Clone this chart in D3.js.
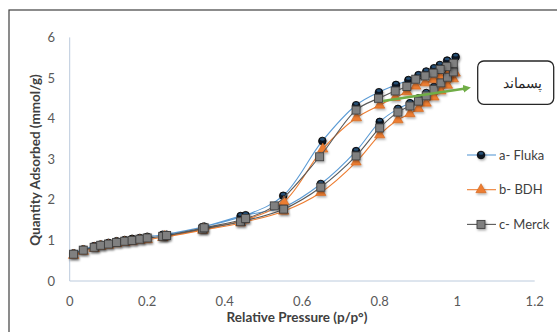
<!DOCTYPE html>
<html>
<head>
<meta charset="utf-8">
<script src="https://cdn.jsdelivr.net/npm/d3@7"></script>
<style>
  body { margin: 0; background: #fff; }
  svg { display: block; }
  text { font-family: Lato, "Liberation Sans", sans-serif; }
</style>
</head>
<body>
<div id="chart"></div>
<script>
// Series labels (legend order)
const seriesNames = ['a- Fluka', 'b- BDH', 'c- Merck'];

// Adsorption branch: relative pressure shared by all samples
const adsP = [0.01, 0.035, 0.063, 0.08, 0.10, 0.121, 0.142, 0.161, 0.181, 0.20, 0.24, 0.343, 0.441, 0.552,
              0.648, 0.739, 0.80, 0.847, 0.878, 0.90, 0.92, 0.94, 0.958, 0.975, 0.99];
const flukaAds = [0.68, 0.78, 0.86, 0.90, 0.94, 0.98, 1.01, 1.04, 1.06, 1.09, 1.14, 1.33, 1.60, 1.82,
                  2.39, 3.20, 3.92, 4.24, 4.38, 4.50, 4.63, 4.78, 4.93, 5.08, 5.25];
const bdhAds = [0.63, 0.73, 0.80, 0.85, 0.88, 0.92, 0.95, 0.97, 1.00, 1.02, 1.07, 1.25, 1.43, 1.72,
                2.18, 2.93, 3.60, 3.97, 4.12, 4.25, 4.38, 4.53, 4.68, 4.82, 4.98];
const merckAds = [0.66, 0.76, 0.83, 0.88, 0.91, 0.95, 0.98, 1.00, 1.03, 1.06, 1.10, 1.28, 1.46, 1.77,
                  2.31, 3.08, 3.77, 4.16, 4.31, 4.43, 4.56, 4.72, 4.88, 5.02, 5.15];

// Desorption branch
const flukaDesP = [0.996, 0.974, 0.955, 0.94, 0.92, 0.90, 0.874, 0.842, 0.798, 0.739, 0.652, 0.551, 0.454, 0.347, 0.25];
const flukaDes = [5.52, 5.43, 5.32, 5.24, 5.16, 5.07, 4.95, 4.83, 4.65, 4.33, 3.45, 2.10, 1.62, 1.34, 1.14];
const bdhDesP = [0.995, 0.975, 0.956, 0.938, 0.917, 0.893, 0.87, 0.84, 0.80, 0.74, 0.653, 0.553, 0.45, 0.345, 0.245];
const bdhDes = [5.12, 5.08, 5.03, 4.96, 4.88, 4.80, 4.66, 4.52, 4.33, 4.02, 3.25, 1.95, 1.50, 1.28, 1.10];
const merckDesP = [0.99, 0.973, 0.956, 0.938, 0.917, 0.893, 0.87, 0.84, 0.797, 0.739, 0.645, 0.528, 0.454, 0.347, 0.25];
const merckDes = [5.36, 5.28, 5.21, 5.12, 5.05, 4.97, 4.79, 4.68, 4.50, 4.21, 3.06, 1.85, 1.54, 1.31, 1.12];

// Axis ticks
const xTicks = [0, 0.2, 0.4, 0.6, 0.8, 1, 1.2];
const yTicks = [0, 1, 2, 3, 4, 5, 6];

const width = 557, height = 332;
const margin = { top: 37.4, right: 22.3, bottom: 51, left: 69.7 };

const svg = d3.select('#chart').append('svg')
    .attr('width', width)
    .attr('height', height);

const defs = svg.append('defs');
defs.append('filter').attr('id', 'shadow')
    .attr('x', '-50%').attr('y', '-50%').attr('width', '200%').attr('height', '200%')
  .append('feDropShadow')
    .attr('dx', 1).attr('dy', 1.5).attr('stdDeviation', 0.8)
    .attr('flood-color', '#000').attr('flood-opacity', 0.35);
defs.append('marker').attr('id', 'arrowhead')
    .attr('viewBox', '0 0 10 10').attr('refX', 5).attr('refY', 5)
    .attr('markerWidth', 3).attr('markerHeight', 3).attr('orient', 'auto')
  .append('path').attr('d', 'M0,0 L10,5 L0,10 z').attr('fill', '#70ad47');

// Outer chart frame
svg.append('rect')
    .attr('x', 9).attr('y', 10)
    .attr('width', 560).attr('height', 340)
    .attr('fill', 'none').attr('stroke', '#404040').attr('stroke-width', 1.2);

const x = d3.scaleLinear().domain([0, 1.2]).range([margin.left, width - margin.right]);
const y = d3.scaleLinear().domain([0, 6]).range([height - margin.bottom, margin.top]);

// Axis lines
svg.append('line')
    .attr('x1', x(0)).attr('x2', x(0)).attr('y1', y(0)).attr('y2', y(6))
    .attr('stroke', '#bccbdd').attr('stroke-width', 1);
svg.append('line')
    .attr('x1', x(0)).attr('x2', x(1.2)).attr('y1', y(0)).attr('y2', y(0))
    .attr('stroke', '#bccbdd').attr('stroke-width', 1);

// Tick labels
svg.selectAll('.ytick').data(yTicks).enter().append('text')
    .attr('class', 'ytick')
    .attr('x', 55).attr('y', d => y(d) + 4.5)
    .attr('text-anchor', 'end')
    .attr('font-size', 13).attr('fill', '#595959')
    .text(d => d);
svg.selectAll('.xtick').data(xTicks).enter().append('text')
    .attr('class', 'xtick')
    .attr('x', d => x(d)).attr('y', 306)
    .attr('text-anchor', 'middle')
    .attr('font-size', 13).attr('fill', '#595959')
    .text(d => d);

// Axis titles
svg.append('text')
    .attr('transform', `translate(40,160) rotate(-90)`)
    .attr('text-anchor', 'middle')
    .attr('font-size', 13.5).attr('font-weight', 'bold').attr('fill', '#404040')
    .text('Quantity Adsorbed (mmol/g)');
svg.append('text')
    .attr('x', 297).attr('y', 322)
    .attr('text-anchor', 'middle')
    .attr('font-size', 13.5).attr('font-weight', 'bold').attr('fill', '#404040')
    .text('Relative Pressure (p/p°)');

// Build series (adsorption then desorption in one loop)
const zipPts = (ps, qs) => ps.map((p, i) => ({ p, q: qs[i] }));
const series = [
    { name: seriesNames[0], color: '#5b9bd5', shape: 'circle',
      pts: zipPts(adsP, flukaAds).concat(zipPts(flukaDesP, flukaDes)) },
    { name: seriesNames[1], color: '#ed7d31', shape: 'triangle',
      pts: zipPts(adsP, bdhAds).concat(zipPts(bdhDesP, bdhDes)) },
    { name: seriesNames[2], color: '#595959', shape: 'square',
      pts: zipPts(adsP, merckAds).concat(zipPts(merckDesP, merckDes)) }
];

const line = d3.line()
    .x(d => x(d.p))
    .y(d => y(d.q))
    .curve(d3.curveCatmullRom.alpha(0.5));

function drawMarker(g, shape, color) {
    if (shape === 'circle') {
        g.append('circle').attr('r', 3.8)
            .attr('fill', '#0b1624').attr('stroke', '#000').attr('stroke-width', 0.8);
        g.append('ellipse').attr('cx', 0).attr('cy', -1.6).attr('rx', 2.4).attr('ry', 1.3)
            .attr('fill', '#2f5f8a').attr('opacity', 0.8);
    } else if (shape === 'triangle') {
        g.append('path').attr('d', d3.symbol(d3.symbolTriangle, 46)())
            .attr('fill', color).attr('stroke', '#d0641c').attr('stroke-width', 0.6);
    } else {
        g.append('rect').attr('x', -4).attr('y', -4).attr('width', 8).attr('height', 8)
            .attr('fill', '#808080').attr('stroke', '#404040').attr('stroke-width', 0.9);
    }
}

series.forEach(s => {
    svg.append('path')
        .datum(s.pts)
        .attr('d', line)
        .attr('fill', 'none')
        .attr('stroke', s.color)
        .attr('stroke-width', 1.1);
    svg.append('g').selectAll('g').data(s.pts).enter().append('g')
        .attr('transform', d => `translate(${x(d.p)},${y(d.q)})`)
        .attr('filter', 'url(#shadow)')
        .each(function () { drawMarker(d3.select(this), s.shape, s.color); });
});

// Legend
const legend = svg.append('g');
series.forEach((s, i) => {
    const ly = 155 + i * 34.7;
    legend.append('line')
        .attr('x1', 467).attr('x2', 496).attr('y1', ly).attr('y2', ly)
        .attr('stroke', s.color).attr('stroke-width', 1.1);
    const m = legend.append('g').attr('transform', `translate(481,${ly})`).attr('filter', 'url(#shadow)');
    drawMarker(m, s.shape, s.color);
    legend.append('text')
        .attr('x', 499).attr('y', ly + 4.5)
        .attr('font-size', 13).attr('fill', '#404040')
        .text(s.name);
});

// Callout with arrow
svg.append('line')
    .attr('x1', 383).attr('y1', 101).attr('x2', 467).attr('y2', 88.2)
    .attr('stroke', '#70ad47').attr('stroke-width', 2.6)
    .attr('marker-end', 'url(#arrowhead)');
svg.append('rect')
    .attr('x', 477.7).attr('y', 61).attr('width', 76).attr('height', 43.3)
    .attr('rx', 6).attr('ry', 6)
    .attr('fill', '#fff').attr('stroke', '#262626').attr('stroke-width', 1.3);
svg.append('text')
    .attr('x', 522).attr('y', 88)
    .attr('text-anchor', 'middle')
    .attr('font-family', '"DejaVu Sans", sans-serif')
    .attr('font-size', 14).attr('fill', '#262626')
    .text('پسماند');
</script>
</body>
</html>
